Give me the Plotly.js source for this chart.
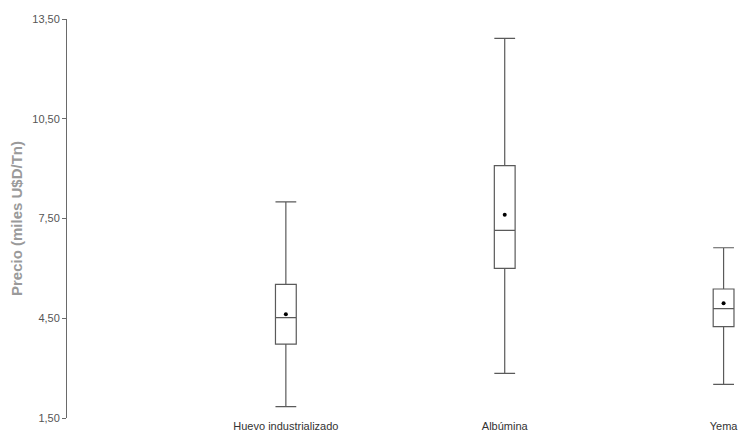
<!DOCTYPE html>
<html>
<head>
<meta charset="utf-8">
<script src="https://cdn.plot.ly/plotly-3.0.1.min.js"></script>
<style>html,body{margin:0;padding:0;background:#fff;}#chart{width:740px;height:432px;}</style>
</head>
<body>
<div id="chart"></div>
<script>
const categories = ["Huevo industrializado", "Albúmina", "Yema"];
const lowerWhisker = [1.84, 2.84, 2.51];
const q1Values = [3.72, 6.00, 4.25];
const medianValues = [4.52, 7.14, 4.79];
const q3Values = [5.52, 9.09, 5.38];
const upperWhisker = [8.00, 12.92, 6.62];
const meanValues = [4.62, 7.61, 4.95];
const yTicks = [1.5, 4.5, 7.5, 10.5, 13.5];

const boxTrace = {
  type: "box",
  x: categories,
  q1: q1Values,
  median: medianValues,
  q3: q3Values,
  lowerfence: lowerWhisker,
  upperfence: upperWhisker,
  width: 0.095,
  whiskerwidth: 1,
  fillcolor: "rgba(255,255,255,0)",
  line: {color: "#5a5a5a", width: 1.2},
  boxpoints: false,
  hoverinfo: "skip",
  showlegend: false
};

const meanTrace = {
  type: "scatter",
  mode: "markers",
  x: categories,
  y: meanValues,
  marker: {color: "#000", size: 4, symbol: "circle"},
  hoverinfo: "skip",
  showlegend: false
};

const layout = {
  width: 740,
  height: 432,
  margin: {l: 67, r: 0, t: 19, b: 14, pad: 0},
  paper_bgcolor: "#fff",
  plot_bgcolor: "#fff",
  separators: ",.",
  font: {family: "Liberation Sans, Arial, sans-serif", size: 11, color: "#444"},
  xaxis: {
    type: "category",
    categoryorder: "array",
    categoryarray: categories,
    range: [-1, 2.075],
    showline: false,
    showgrid: false,
    zeroline: false,
    ticks: "",
    tickfont: {size: 11, color: "#333"},
    automargin: false
  },
  yaxis: {
    range: [1.5, 13.5],
    tickvals: yTicks,
    tickformat: ".2f",
    showline: true,
    linecolor: "#6a6a6a",
    linewidth: 1,
    ticks: "outside",
    ticklen: 4,
    tickcolor: "#6a6a6a",
    showgrid: false,
    zeroline: false,
    tickfont: {size: 11, color: "#555"},
    automargin: false,
    title: {text: "<b>Precio (miles U$D/Tn)</b>", font: {size: 15, color: "#9a9a9a"}, standoff: 6}
  }
};

Plotly.newPlot("chart", [boxTrace, meanTrace], layout, {displayModeBar: false, staticPlot: true});
</script>
</body>
</html>
